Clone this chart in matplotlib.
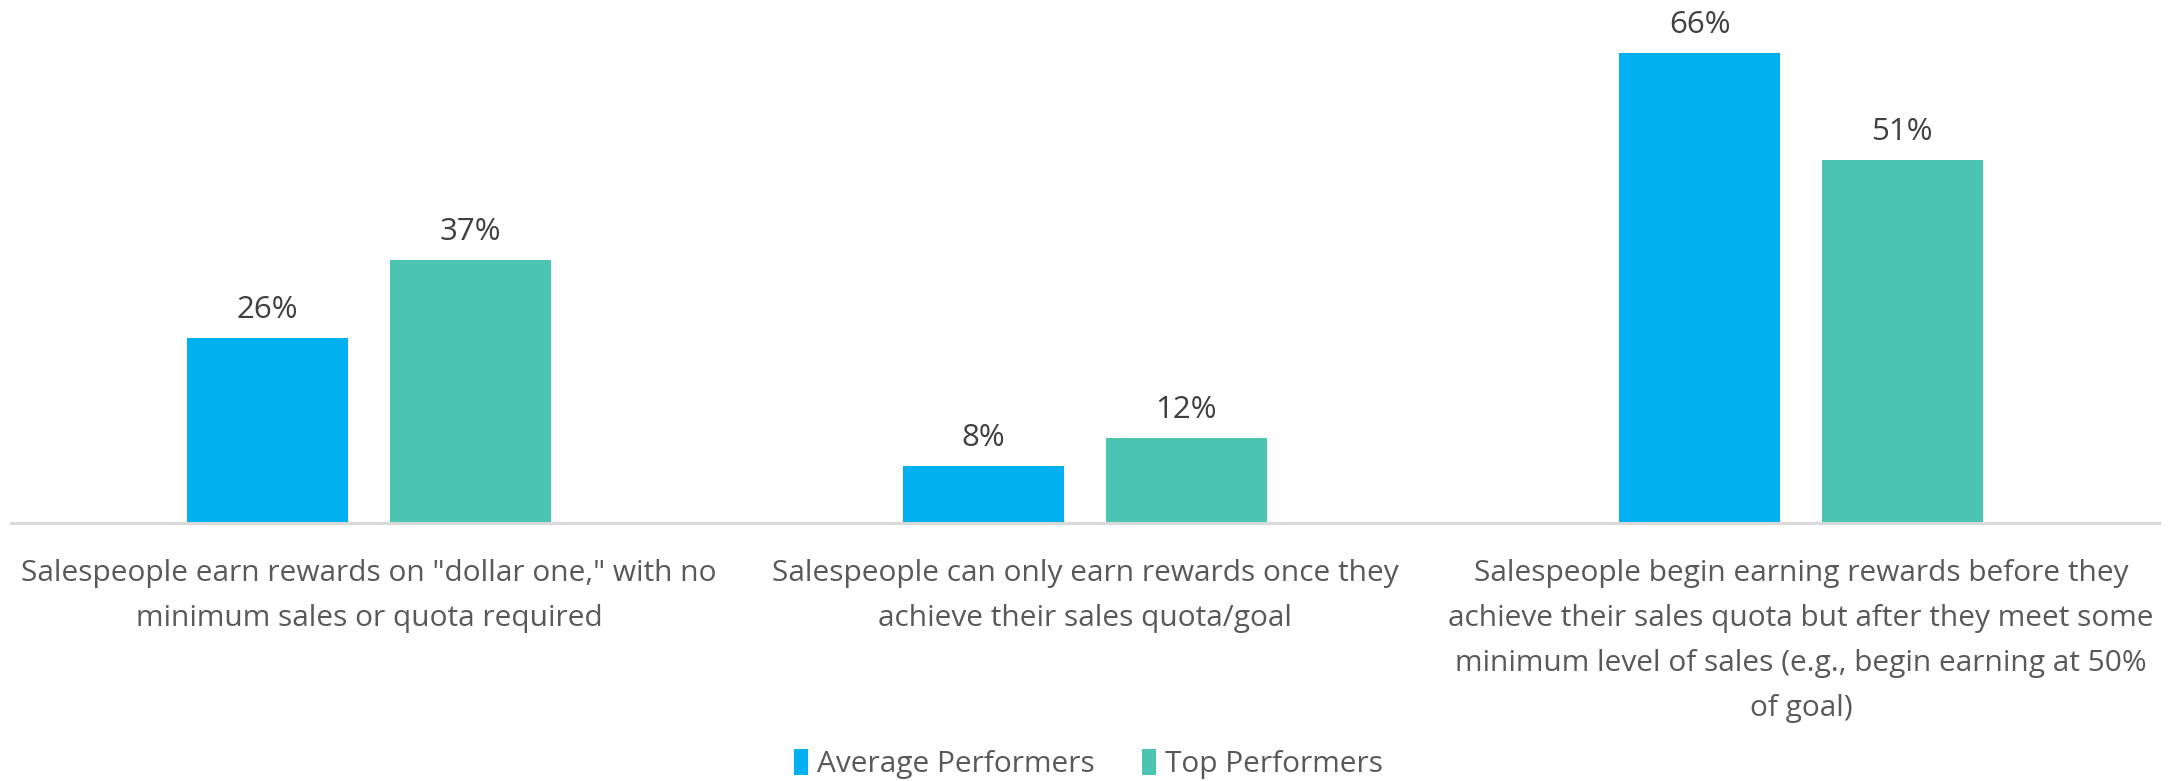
import matplotlib
matplotlib.use("Agg")
import matplotlib.pyplot as plt
import matplotlib.transforms as mtransforms
from matplotlib.patches import Patch
import numpy as np

categories = [
    'Salespeople earn rewards on "dollar one," with no\nminimum sales or quota required',
    'Salespeople can only earn rewards once they\nachieve their sales quota/goal',
    'Salespeople begin earning rewards before they\nachieve their sales quota but after they meet some\nminimum level of sales (e.g., begin earning at 50%\nof goal)',
]
series_names = ["Average Performers", "Top Performers"]
average_performers = [26, 8, 66]
top_performers = [37, 12, 51]
colors = ["#00B0F0", "#4BC4B3"]

plt.rcParams["font.family"] = ["Open Sans", "DejaVu Sans"]

W, H = 2177, 781
fig = plt.figure(figsize=(W / 100, H / 100), dpi=100)

# axes geometry in pixels
left_px, right_px = 11, 2159
base_px = 523
ymax = 70
px_per_unit = 470 / 66
top_px = base_px - ymax * px_per_unit
ax = fig.add_axes([left_px / W, 1 - base_px / H, (right_px - left_px) / W,
                   (base_px - top_px) / H])

x = np.arange(len(categories))
bw = 0.225
offset = 0.1415
for vals, col, dx in zip([average_performers, top_performers], colors, [-offset, offset]):
    bars = ax.bar(x + dx, vals, width=bw, color=col, zorder=2)
    for b, v in zip(bars, vals):
        ax.annotate(f"{v}%", (b.get_x() + b.get_width() / 2, v),
                    xytext=(0, 20), textcoords="offset points",
                    ha="center", va="center", fontsize=22.5, color="#404040")

ax.set_xlim(-0.5, len(categories) - 0.5)
ax.set_ylim(0, ymax)
for s in ["top", "right", "left"]:
    ax.spines[s].set_visible(False)
ax.spines["bottom"].set_color("#D9D9D9")
ax.spines["bottom"].set_linewidth(2.2)
ax.set_yticks([])
ax.set_xticks([])

trans = mtransforms.blended_transform_factory(ax.transData, fig.transFigure)
for xi, lab in zip(x, categories):
    ax.text(xi, 1 - 559 / H, lab, transform=trans, ha="center", va="top",
            fontsize=21.5, color="#595959", linespacing=1.72)

handles = [Patch(facecolor=c, edgecolor="none") for c in colors]
fig.legend(handles, series_names, loc="center", bbox_to_anchor=(0.5, 1 - 764 / H),
           ncol=2, frameon=False, fontsize=21.5, labelcolor="#595959",
           handlelength=0.45, handleheight=1.0, handletextpad=0.3, columnspacing=1.6)

fig.savefig("out.png", dpi=100, facecolor="white")
